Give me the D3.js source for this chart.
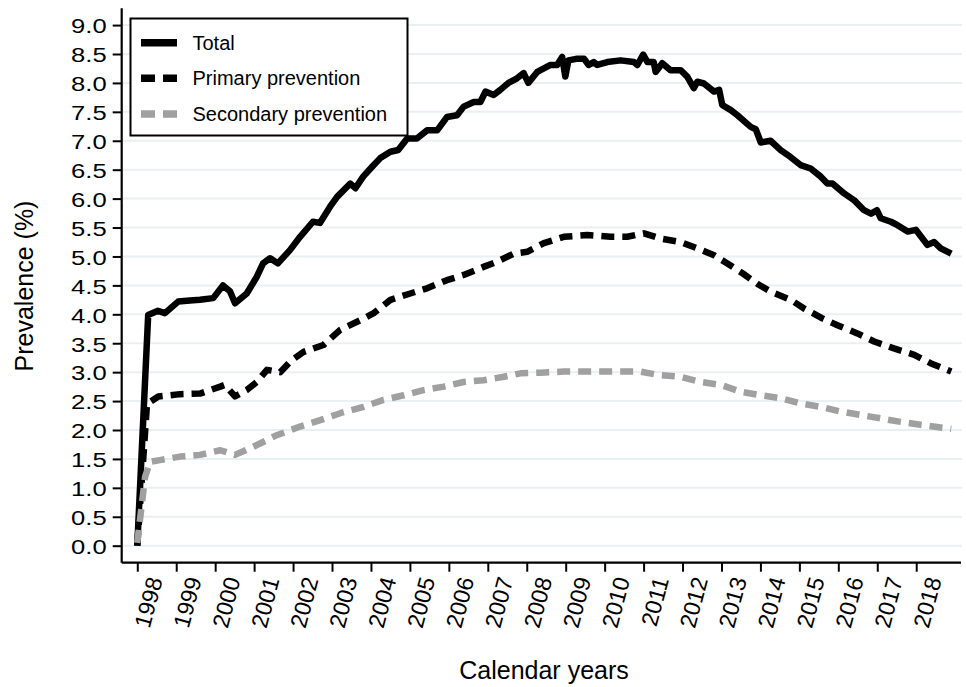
<!DOCTYPE html>
<html>
<head>
<meta charset="utf-8">
<script src="https://cdn.jsdelivr.net/npm/d3@7"></script>
<style>
  html, body { margin: 0; padding: 0; background: #fff; }
  svg { display: block; font-family: "Liberation Sans", Arial, sans-serif; }
</style>
</head>
<body>
<svg id="chart" width="966" height="687"></svg>
<script>
// ---------- data ----------
const yTickValues = [0.0, 0.5, 1.0, 1.5, 2.0, 2.5, 3.0, 3.5, 4.0, 4.5, 5.0, 5.5, 6.0, 6.5, 7.0, 7.5, 8.0, 8.5, 9.0];
const yearTicks = [1998, 1999, 2000, 2001, 2002, 2003, 2004, 2005, 2006, 2007, 2008, 2009, 2010, 2011, 2012, 2013, 2014, 2015, 2016, 2017, 2018];

const seriesNames = ["Total", "Primary prevention", "Secondary prevention"];

const totalYears = [1998.00, 1998.28, 1998.53, 1998.71, 1999.05, 1999.35, 1999.61, 1999.95, 2000.20, 2000.38, 2000.51, 2000.81,
  2001.07, 2001.23, 2001.41, 2001.61, 2001.92, 2002.18, 2002.51, 2002.69, 2002.95, 2003.13, 2003.47, 2003.60, 2003.80,
  2004.03, 2004.24, 2004.50, 2004.70, 2004.93, 2005.18, 2005.44, 2005.70, 2005.95, 2006.21, 2006.38, 2006.64, 2006.81,
  2006.94, 2007.15, 2007.32, 2007.53, 2007.75, 2007.92, 2008.04, 2008.27, 2008.61, 2008.78, 2008.91, 2008.99, 2009.07,
  2009.30, 2009.47, 2009.59, 2009.72, 2009.81, 2010.07, 2010.41, 2010.75, 2010.84, 2010.99, 2011.10, 2011.26, 2011.31,
  2011.48, 2011.69, 2011.95, 2012.12, 2012.29, 2012.38, 2012.55, 2012.81, 2012.94, 2013.02, 2013.24, 2013.41, 2013.75,
  2013.88, 2014.01, 2014.26, 2014.52, 2014.77, 2015.03, 2015.29, 2015.55, 2015.72, 2015.85, 2016.15, 2016.41, 2016.66,
  2016.84, 2016.99, 2017.09, 2017.35, 2017.52, 2017.78, 2017.99, 2018.29, 2018.46, 2018.63, 2018.90];
const totalValues = [0.00, 3.99, 4.06, 4.02, 4.22, 4.24, 4.25, 4.28, 4.50, 4.40, 4.19, 4.36,
  4.65, 4.88, 4.97, 4.88, 5.11, 5.34, 5.60, 5.58, 5.86, 6.03, 6.26, 6.18, 6.38,
  6.55, 6.70, 6.81, 6.84, 7.04, 7.04, 7.18, 7.18, 7.41, 7.44, 7.59, 7.67, 7.67,
  7.85, 7.79, 7.88, 8.00, 8.08, 8.17, 8.00, 8.19, 8.31, 8.31, 8.45, 8.11, 8.39,
  8.42, 8.42, 8.31, 8.36, 8.31, 8.36, 8.39, 8.36, 8.31, 8.49, 8.36, 8.36, 8.19,
  8.34, 8.22, 8.22, 8.11, 7.91, 8.02, 7.99, 7.85, 7.88, 7.62, 7.53, 7.44, 7.24,
  7.20, 6.97, 7.00, 6.84, 6.72, 6.58, 6.52, 6.38, 6.26, 6.26, 6.09, 5.97, 5.80,
  5.74, 5.80, 5.66, 5.60, 5.54, 5.43, 5.46, 5.20, 5.25, 5.14, 5.05];

const primaryYears = [1998.00, 1998.25, 1998.54, 1999.10, 1999.61, 2000.13, 2000.25, 2000.51, 2000.81, 2001.07, 2001.33,
  2001.67, 2001.97, 2002.27, 2002.78, 2003.21, 2003.73, 2004.07, 2004.50, 2005.01, 2005.44, 2005.95, 2006.38, 2006.89,
  2007.24, 2007.67, 2008.01, 2008.44, 2008.95, 2009.55, 2010.15, 2010.58, 2011.01, 2011.44, 2011.95, 2012.38, 2012.81,
  2013.15, 2013.54, 2013.96, 2014.27, 2014.78, 2015.12, 2015.59, 2015.98, 2016.49, 2016.92, 2017.43, 2017.95, 2018.38, 2018.90];
const primaryValues = [0.00, 2.45, 2.58, 2.62, 2.63, 2.75, 2.78, 2.58, 2.69, 2.83, 3.04,
  3.00, 3.21, 3.35, 3.47, 3.73, 3.90, 4.02, 4.25, 4.36, 4.45, 4.59, 4.68, 4.82,
  4.91, 5.05, 5.08, 5.23, 5.34, 5.37, 5.34, 5.34, 5.40, 5.31, 5.25, 5.14, 5.02,
  4.88, 4.71, 4.51, 4.39, 4.25, 4.10, 3.93, 3.81, 3.67, 3.53, 3.41, 3.30, 3.15, 3.01];

const secondaryYears = [1998.00, 1998.20, 1998.33, 1998.58, 1999.10, 1999.61, 2000.13, 2000.51, 2000.98, 2001.58, 2002.18,
  2002.70, 2003.21, 2003.81, 2004.32, 2004.84, 2005.35, 2005.87, 2006.38, 2006.89, 2007.41, 2007.84, 2008.35, 2008.95,
  2009.47, 2009.98, 2010.41, 2010.92, 2011.39, 2011.95, 2012.47, 2012.98, 2013.50, 2014.01, 2014.52, 2015.03, 2015.55,
  2016.06, 2016.57, 2017.09, 2017.60, 2018.11, 2018.90];
const secondaryValues = [0.05, 1.19, 1.45, 1.48, 1.54, 1.57, 1.65, 1.57, 1.71, 1.91, 2.06,
  2.17, 2.29, 2.40, 2.52, 2.60, 2.69, 2.75, 2.83, 2.86, 2.92, 2.98, 2.99, 3.01,
  3.01, 3.01, 3.01, 3.01, 2.95, 2.92, 2.83, 2.78, 2.66, 2.60, 2.55, 2.46, 2.40,
  2.32, 2.26, 2.20, 2.14, 2.09, 2.02];

// ---------- layout ----------
const svg = d3.select("#chart");
const x = d3.scaleLinear().domain([1997.6, 2019.15]).range([121.7, 961]);
const y = d3.scaleLinear().domain([-0.294, 9.29]).range([562.7, 8.3]);

const gridColor = "#e9f0f2";
const grayColor = "#a0a0a0";

// gridlines
svg.append("g").selectAll("line").data(yTickValues).join("line")
  .attr("x1", x.range()[0]).attr("x2", 962)
  .attr("y1", d => y(d)).attr("y2", d => y(d))
  .attr("stroke", gridColor).attr("stroke-width", 2);

// y axis
const yAxis = svg.append("g").attr("transform", `translate(${x.range()[0]},0)`)
  .call(d3.axisLeft(y).tickValues(yTickValues).tickSize(9).tickPadding(6).tickFormat(d3.format(".1f")));
yAxis.select(".domain").attr("stroke", "#000").attr("stroke-width", 2.2)
  .attr("d", `M0,${y.range()[1]}V${y.range()[0]}`);
yAxis.selectAll(".tick line").attr("stroke", "#000").attr("stroke-width", 2);
yAxis.selectAll(".tick text")
  .attr("font-size", 21).attr("fill", "#000")
  .attr("font-family", "Liberation Sans, Arial, sans-serif")
  .attr("dy", null).attr("y", 7.8).attr("x", 0)
  .attr("transform", "translate(-15,0) scale(1.22,1)");

// x axis
const xAxis = svg.append("g").attr("transform", `translate(0,${y.range()[0]})`)
  .call(d3.axisBottom(x).tickValues(yearTicks).tickSize(9).tickFormat(d3.format("d")));
xAxis.select(".domain").attr("stroke", "#000").attr("stroke-width", 2.2)
  .attr("d", `M${x.range()[0]},0H${x.range()[1]}`);
xAxis.selectAll(".tick line").attr("stroke", "#000").attr("stroke-width", 2);
xAxis.selectAll(".tick text")
  .attr("font-size", 23).attr("fill", "#000")
  .attr("font-family", "Liberation Sans, Arial, sans-serif")
  .attr("text-anchor", "end").attr("dy", null).attr("y", 0).attr("x", 0)
  .attr("transform", "translate(25,17) rotate(-75)");

// axis titles
svg.append("text").attr("transform", "translate(33,286) rotate(-90)")
  .attr("text-anchor", "middle").attr("font-size", 25).attr("fill", "#000")
  .text("Prevalence (%)");
svg.append("text").attr("x", 544).attr("y", 679)
  .attr("text-anchor", "middle").attr("font-size", 25).attr("fill", "#000")
  .text("Calendar years");

// lines
const line = d3.line().x(d => x(d[0])).y(d => y(d[1])).curve(d3.curveLinear);
const seriesData = [
  { pts: d3.zip(totalYears, totalValues), color: "#000", dash: null },
  { pts: d3.zip(primaryYears, primaryValues), color: "#000", dash: "13,8" },
  { pts: d3.zip(secondaryYears, secondaryValues), color: grayColor, dash: "13,8" }
];
svg.append("g").selectAll("path").data(seriesData).join("path")
  .attr("d", d => line(d.pts))
  .attr("fill", "none")
  .attr("stroke", d => d.color)
  .attr("stroke-width", 6.5)
  .attr("stroke-linejoin", "round")
  .attr("stroke-dasharray", d => d.dash);

// legend
const legend = svg.append("g");
legend.append("rect").attr("x", 130.5).attr("y", 18.5).attr("width", 277).attr("height", 117)
  .attr("fill", "#fff").attr("stroke", "#000").attr("stroke-width", 2);
const legendRows = [
  { name: seriesNames[0], color: "#000", dash: null, ly: 42.7 },
  { name: seriesNames[1], color: "#000", dash: "14,8", ly: 78.3 },
  { name: seriesNames[2], color: grayColor, dash: "14,8", ly: 114 }
];
const rows = legend.selectAll("g.row").data(legendRows).join("g").attr("class", "row");
rows.append("line").attr("x1", 141).attr("x2", 177)
  .attr("y1", d => d.ly).attr("y2", d => d.ly)
  .attr("stroke", d => d.color).attr("stroke-width", 7.5)
  .attr("stroke-dasharray", d => d.dash);
rows.append("text").attr("x", 192.5).attr("y", d => d.ly + 7)
  .attr("font-size", 20).attr("fill", "#000").text(d => d.name);
</script>
</body>
</html>
